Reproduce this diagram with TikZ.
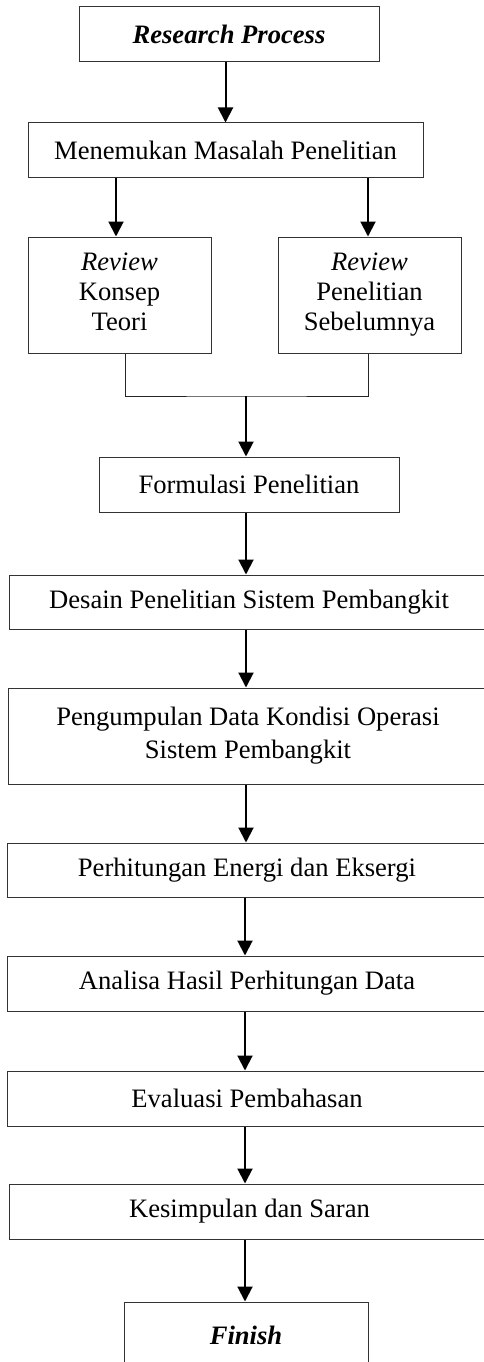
\documentclass[tikz,border=0pt]{standalone}
\usepackage{fontspec}
\setmainfont{Liberation Serif}
\usetikzlibrary{arrows.meta}
\begin{document}
\begin{tikzpicture}[x=1pt,y=-1pt,
 box/.style={draw=black!80, line width=1pt, inner sep=0pt, align=center, font=\fontsize{26.6}{30}\selectfont},
 arr/.style={line width=2pt, -{Triangle[width=15pt,length=15pt]}},
 ln/.style={line width=1pt, draw=black!85}]
\clip (0,0) rectangle (484,1362);
\node[box, minimum width=300pt, minimum height=55pt] (rp) at (229,34.5) {\bfseries\itshape Research Process};
\node[box, minimum width=395pt, minimum height=54pt] (mm) at (225.5,150) {Menemukan Masalah Penelitian};
\node[box, minimum width=183pt, minimum height=116pt] (r1) at (119.5,295) {\itshape Review\\Konsep\\Teori\vphantom{y}};
\node[box, minimum width=183pt, minimum height=116pt] (r2) at (369.5,295) {\itshape Review\\Penelitian\\Sebelumnya};
\node[box, minimum width=300pt, minimum height=55pt] (fm) at (249,484.5) {Formulasi Penelitian};
\node[box, minimum width=480pt, minimum height=54pt] (ds) at (249,602) {Desain Penelitian Sistem Pembangkit};
\node[box, minimum width=480pt, minimum height=96pt, font=\fontsize{26.6}{33}\selectfont] (pd) at (248,736) {Pengumpulan Data Kondisi Operasi\\Sistem Pembangkit};
\node[box, minimum width=480pt, minimum height=54pt] (ph) at (247,870) {Perhitungan Energi dan Eksergi};
\node[box, minimum width=480pt, minimum height=55pt] (an) at (247,983.5) {Analisa Hasil Perhitungan Data};
\node[box, minimum width=480pt, minimum height=55pt] (ev) at (247,1098.5) {Evaluasi Pembahasan};
\node[box, minimum width=481pt, minimum height=55pt] (ks) at (249.5,1211.5) {Kesimpulan dan Saran};
\node[box, minimum width=244pt, minimum height=66pt] (fn) at (246,1335) {\bfseries\itshape Finish};
\coordinate (jm) at (246,396);
\draw[arr] (mm.north |- rp.south) -- (mm.north);
\draw[arr] ([xshift=-3.5pt]r1.north |- mm.south) -- ([xshift=-3.5pt]r1.north);
\draw[arr] ([xshift=-1.5pt]r2.north |- mm.south) -- ([xshift=-1.5pt]r2.north);
\draw[ln] ([xshift=5.5pt]r1.south) |- (jm) -| ([xshift=-1.5pt]r2.south);
\draw[arr] (jm) -- (jm |- fm.north);
\draw[arr] (jm |- fm.south) -- (jm |- ds.north);
\draw[arr] (jm |- ds.south) -- (jm |- pd.north);
\draw[arr] (jm |- pd.south) -- (jm |- ph.north);
\draw[arr] ([xshift=-1pt]jm |- ph.south) -- ([xshift=-1pt]jm |- an.north);
\draw[arr] ([xshift=-1pt]jm |- an.south) -- ([xshift=-1pt]jm |- ev.north);
\draw[arr] ([xshift=-1pt]jm |- ev.south) -- ([xshift=-1pt]jm |- ks.north);
\draw[arr] ([xshift=-1pt]jm |- ks.south) -- ([xshift=-1pt]jm |- fn.north);
\end{tikzpicture}
\end{document}
